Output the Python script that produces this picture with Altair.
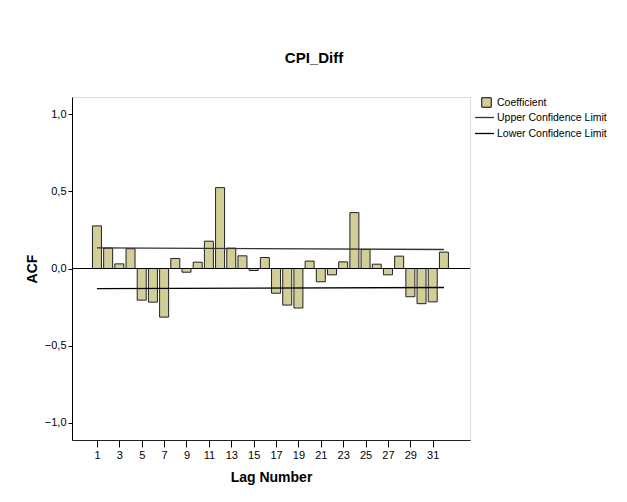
import altair as alt
import pandas as pd

# ---- data ----
lags = list(range(1, 33))
acf = [0.276, 0.132, 0.030, 0.128, -0.205, -0.218, -0.315, 0.065, -0.024, 0.041,
       0.177, 0.524, 0.132, 0.082, -0.013, 0.071, -0.160, -0.237, -0.256, 0.048,
       -0.086, -0.041, 0.043, 0.362, 0.123, 0.028, -0.041, 0.080, -0.183, -0.228,
       -0.216, 0.106]
limit_lags = [1, 32]
upper_limit = [0.134, 0.123]
lower_limit = [-0.131, -0.123]
x_ticks = list(range(1, 32, 2))
y_ticks = [-1.0, -0.5, 0.0, 0.5, 1.0]

FONT = "Liberation Sans"
BAR_FILL = "#d3ce97"

bars_df = pd.DataFrame({"lag": lags, "acf": acf, "series": ["Coefficient"] * len(lags)})
limits_df = pd.DataFrame({
    "lag": limit_lags + limit_lags,
    "value": upper_limit + lower_limit,
    "limit": ["Upper Confidence Limit"] * 2 + ["Lower Confidence Limit"] * 2,
})
zero_df = pd.DataFrame({"y": [0.0]})

x_scale = alt.Scale(domain=[-1.23, 34.33], nice=False, zero=False, padding=0)
y_scale = alt.Scale(domain=[-1.111, 1.111], nice=False)

x_axis = alt.Axis(values=x_ticks, title="Lag Number", grid=False, tickSize=7,
                  tickColor="black", domain=True, domainColor="#222",
                  labelOverlap=False, labelFlush=False,
                  labelFontSize=11, labelFont=FONT, labelColor="black", labelPadding=2,
                  titleFont=FONT, titleFontSize=14, titleFontWeight="bold",
                  titleColor="black", titlePadding=10)
y_axis = alt.Axis(values=y_ticks, title="ACF", grid=False, tickSize=4,
                  tickColor="black", domain=True, domainColor="black",
                  labelOverlap=False, labelFlush=False,
                  labelExpr="replace(format(datum.value, '.1f'), '.', ',')",
                  labelFontSize=11, labelFont=FONT, labelColor="black", labelPadding=2,
                  titleFont=FONT, titleFontSize=14, titleFontWeight="bold",
                  titleColor="black", titlePadding=5)

bars = alt.Chart(bars_df).mark_bar(size=9, stroke="#222", strokeWidth=1).encode(
    x=alt.X("lag:Q", scale=x_scale, axis=x_axis),
    y=alt.Y("acf:Q", scale=y_scale, axis=y_axis),
    fill=alt.Fill("series:N",
                  scale=alt.Scale(domain=["Coefficient"], range=[BAR_FILL]),
                  legend=alt.Legend(title=None, orient="none", legendX=409, legendY=0,
                                    symbolType="square", symbolSize=90,
                                    symbolStrokeColor="black", symbolStrokeWidth=1,
                                    labelFont=FONT, labelFontSize=10.5, labelColor="black",
                                    labelOffset=5, padding=0)),
)

zero = alt.Chart(zero_df).mark_rule(color="black", strokeWidth=1.2).encode(
    y=alt.Y("y:Q", scale=y_scale, axis=y_axis)
)

lines = alt.Chart(limits_df).mark_line(strokeWidth=1.3).encode(
    x=alt.X("lag:Q", scale=x_scale, axis=x_axis),
    y=alt.Y("value:Q", scale=y_scale, axis=y_axis),
    detail="limit:N",
    stroke=alt.Stroke("limit:N",
                      scale=alt.Scale(domain=["Upper Confidence Limit", "Lower Confidence Limit"],
                                      range=["#333", "black"]),
                      legend=alt.Legend(title=None, orient="none", legendX=402, legendY=10,
                                        symbolType="stroke", symbolSize=361,
                                        symbolStrokeWidth=1.3, rowPadding=-6,
                                        labelFont=FONT, labelFontSize=10.5, labelColor="black",
                                        labelOffset=2, padding=0)),
)

chart = alt.layer(bars, zero, lines).properties(
    width=398,
    height=343,
    autosize=alt.AutoSizeParams(type="none"),
    padding={"left": 64, "top": 89, "right": 140, "bottom": 45},
    title=alt.TitleParams("CPI_Diff", font=FONT, fontSize=15, fontWeight="bold",
                          color="black", anchor="middle", dx=43, offset=19,
                          baseline="alphabetic"),
).resolve_scale(fill="independent", stroke="independent").configure_view(
    fill="#f0f0f0", stroke="#6e6e6e", strokeWidth=1
).configure(background="white")

chart.save("out.html", embed_options={"renderer": "svg", "actions": False})
